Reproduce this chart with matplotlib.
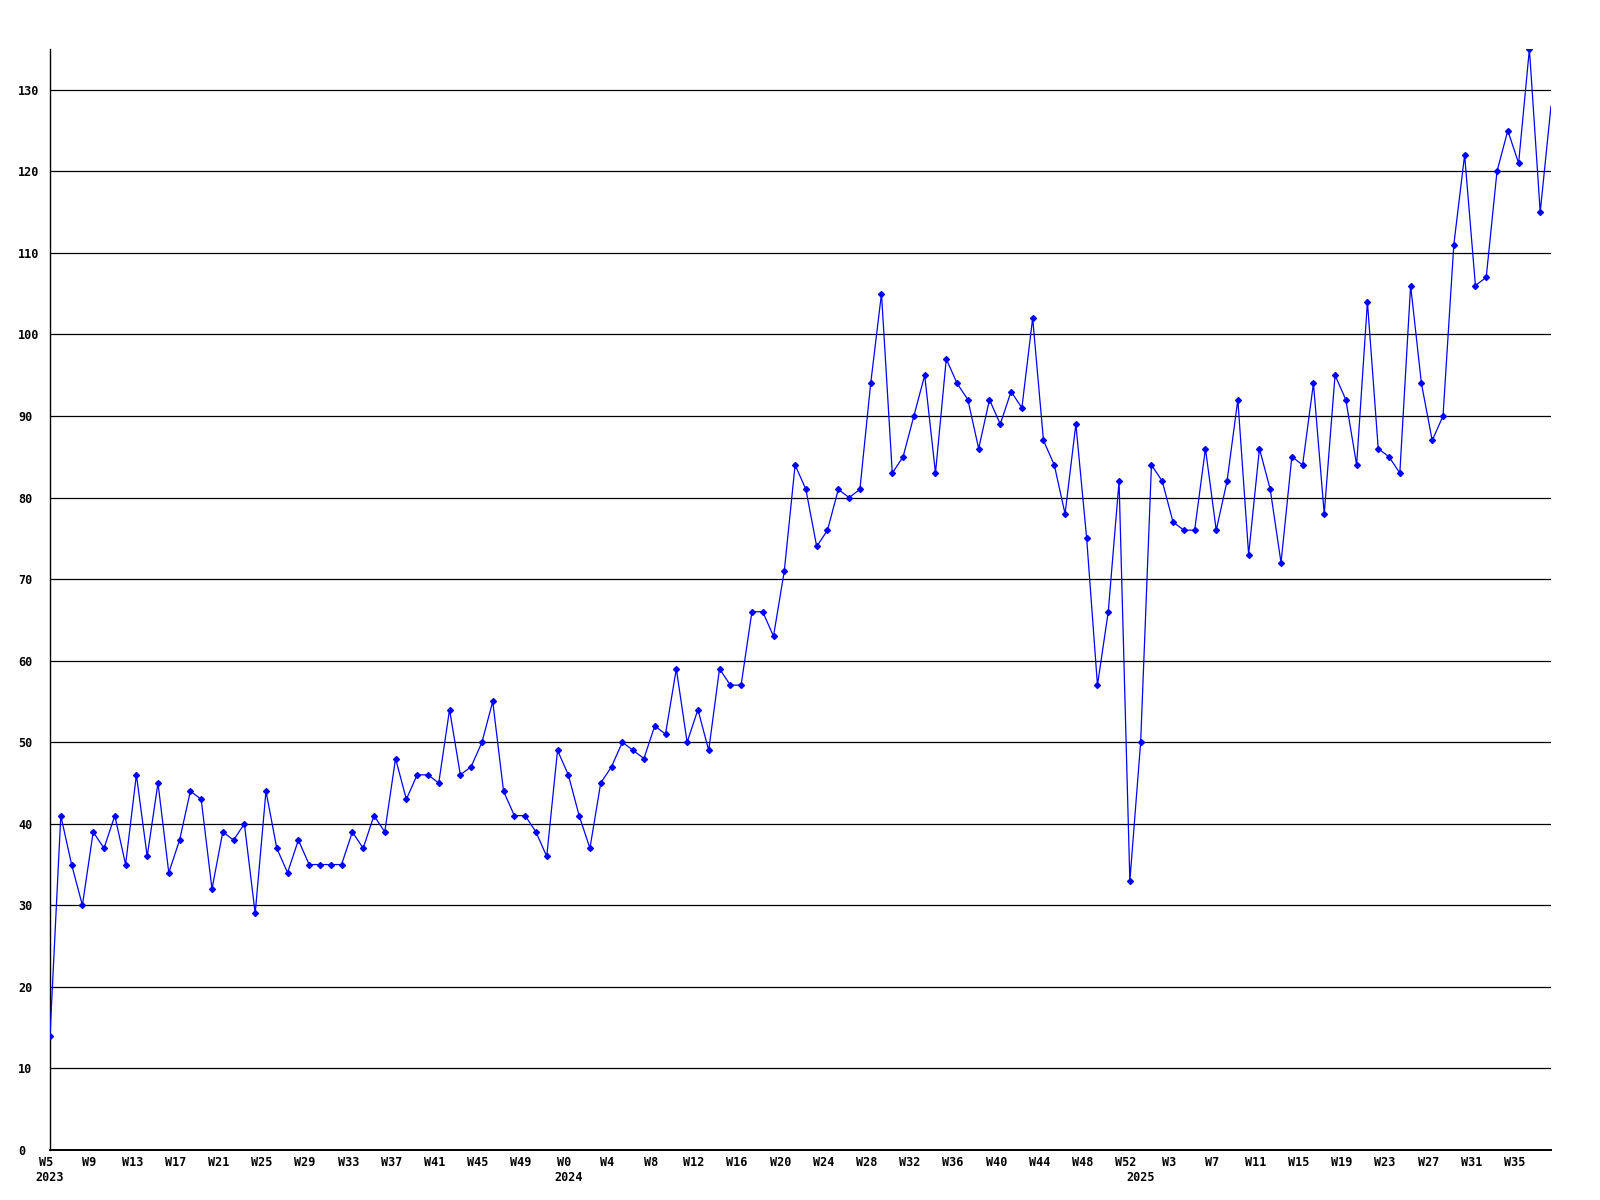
import matplotlib
matplotlib.use("Agg")
from matplotlib import pyplot as plt
from matplotlib.transforms import ScaledTranslation

# weekly counts, W5 2023 .. W38 2025
values = [14, 41, 35, 30, 39, 37, 41, 35, 46, 36, 45, 34, 38, 44, 43, 32,
          39, 38, 40, 29, 44, 37, 34, 38, 35, 35, 35, 35, 39, 37, 41, 39,
          48, 43, 46, 46, 45, 54, 46, 47, 50, 55, 44, 41, 41, 39, 36, 49,
          46, 41, 37, 45, 47, 50, 49, 48, 52, 51, 59, 50, 54, 49, 59, 57,
          57, 66, 66, 63, 71, 84, 81, 74, 76, 81, 80, 81, 94, 105, 83, 85,
          90, 95, 83, 97, 94, 92, 86, 92, 89, 93, 91, 102, 87, 84, 78, 89,
          75, 57, 66, 82, 33, 50, 84, 82, 77, 76, 76, 86, 76, 82, 92, 73,
          86, 81, 72, 85, 84, 94, 78, 95, 92, 84, 104, 86, 85, 83, 106, 94,
          87, 90, 111, 122, 106, 107, 120, 125, 121, 135, 115, 128]

week_labels = ["W5", "W9", "W13", "W17", "W21", "W25", "W29", "W33", "W37",
               "W41", "W45", "W49", "W0", "W4", "W8", "W12", "W16", "W20",
               "W24", "W28", "W32", "W36", "W40", "W44", "W48", "W52", "W3",
               "W7", "W11", "W15", "W19", "W23", "W27", "W31", "W35"]
years = ["2023", "2024", "2025"]
year_start = [0, 48, 101]

font = dict(family="DejaVu Sans Mono", weight="bold", size=8.5)

fig = plt.figure(figsize=(16, 12), dpi=100)
ax = fig.add_axes([50 / 1600, 50 / 1200, 1501 / 1600, 1101 / 1200])

x = list(range(len(values)))
# last week is still open, no marker on it
ax.plot(x, values, color="#0000ff", lw=0.9, marker="D", ms=3,
        mec="#0000ff", mfc="#0000ff", markevery=slice(0, len(values) - 1),
        zorder=3)

ax.set_xlim(0, len(values) - 1)
ax.set_ylim(0, max(values))

for v in range(10, 140, 10):
    ax.axhline(v, color="black", lw=0.9, zorder=1)

ax.set_yticks(range(0, 140, 10))
ax.set_yticklabels([str(v) for v in range(0, 140, 10)], **font)
ax.tick_params(axis="y", length=0, pad=23)
for lab in ax.get_yticklabels():
    lab.set_horizontalalignment("left")

ax.set_xticks(range(0, len(values), 4))
ax.set_xticklabels(week_labels, **font)
ax.tick_params(axis="x", length=0, pad=4.5)
shift = ScaledTranslation(-4 / 100, 0, fig.dpi_scale_trans)
for lab in ax.get_xticklabels():
    lab.set_transform(lab.get_transform() + shift)

for yr, i in zip(years, year_start):
    ax.annotate(yr, xy=(i, 0), xycoords=("data", "axes fraction"),
                xytext=(0, -19.5), textcoords="offset points",
                ha="center", va="center", **font)

ax.spines["top"].set_visible(False)
ax.spines["right"].set_visible(False)
ax.spines["left"].set_linewidth(1)
ax.spines["bottom"].set_linewidth(1.4)

fig.savefig("out.png", dpi=100)
